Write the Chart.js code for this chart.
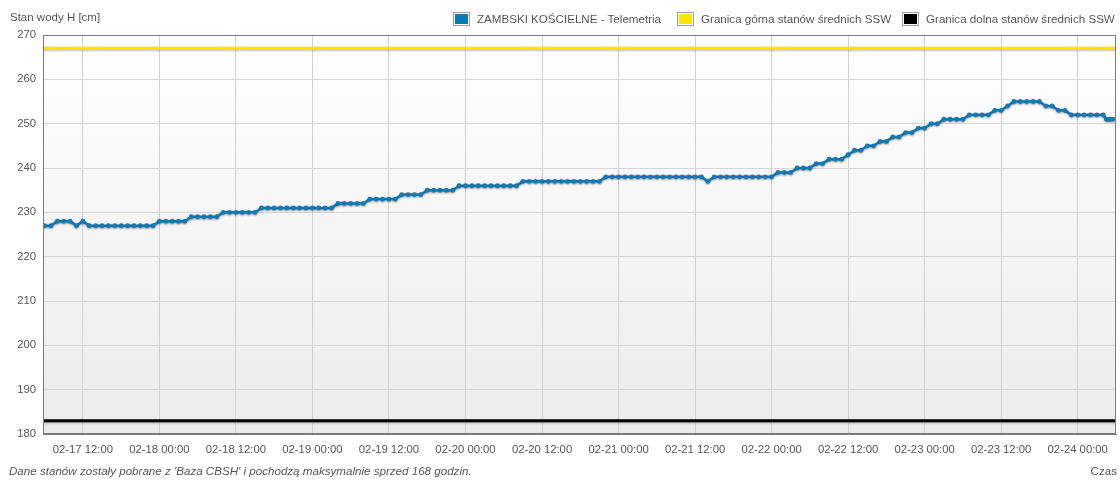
<!DOCTYPE html>
<html>
<head>
<meta charset="utf-8">
<script src="https://cdn.jsdelivr.net/npm/chart.js@4/dist/chart.umd.min.js"></script>
<style>
  body { margin: 0; background: #fff; }
  #wrap { position: relative; width: 1120px; height: 480px; font-family: "Liberation Sans", Arial, sans-serif; font-size: 11.6px; color: #555; }
  #graphic { position: absolute; left: 0; top: 0; }
  .txt { position: absolute; white-space: nowrap; line-height: 13px; }
  .box { position: absolute; width: 15px; height: 12px; border: 1px solid #a0a0a0; box-sizing: content-box; }
  .box i { position: absolute; left: 1px; top: 1px; right: 1px; bottom: 1px; }
</style>
</head>
<body>
<div id="wrap">
  <canvas id="graphic" width="1120" height="480"></canvas>
  <div class="txt" style="left:10px;top:11px;font-size:11.5px;">Stan wody H [cm]</div>

  <div class="box" style="left:453px;top:12px;"><i style="background:#0a78b6"></i></div>
  <div class="txt" style="left:477px;top:12px;">ZAMBSKI KOŚCIELNE - Telemetria</div>
  <div class="box" style="left:677px;top:12px;"><i style="background:#ffe600"></i></div>
  <div class="txt" style="left:701px;top:12px;">Granica górna stanów średnich SSW</div>
  <div class="box" style="left:902px;top:12px;"><i style="background:#000"></i></div>
  <div class="txt" style="left:926px;top:12px;">Granica dolna stanów średnich SSW</div>

  <div class="txt" style="left:9px;top:464px;font-style:italic;">Dane stanów zostały pobrane z 'Baza CBSH' i pochodzą maksymalnie sprzed 168 godzin.</div>
  <div class="txt" style="right:3px;top:464px;">Czas</div>
</div>
<script>
(()=> {
    // hours counted from 02-17 00:00
    const hours = [
        6,7,8,9,10,11,12,13,14,15,16,17,
        18,19,20,21,22,23,24,25,26,27,28,29,
        30,31,32,33,34,35,36,37,38,39,40,41,
        42,43,44,45,46,47,48,49,50,51,52,53,
        54,55,56,57,58,59,60,61,62,63,64,65,
        66,67,68,69,70,71,72,73,74,75,76,77,
        78,79,80,81,82,83,84,85,86,87,88,89,
        90,91,92,93,94,95,96,97,98,99,100,101,
        102,103,104,105,106,107,108,109,110,111,112,113,
        114,115,116,117,118,119,120,121,122,123,124,125,
        126,127,128,129,130,131,132,133,134,135,136,137,
        138,139,140,141,142,143,144,145,146,147,148,149,
        150,151,152,153,154,155,156,157,158,159,160,161,
        162,163,164,165,166,167,168,169,170,171,172,172.5,173,173.5
    ];
    const levels = [
        227,227,228,228,228,227,228,227,227,227,227,227,
        227,227,227,227,227,227,228,228,228,228,228,229,
        229,229,229,229,230,230,230,230,230,230,231,231,
        231,231,231,231,231,231,231,231,231,231,232,232,
        232,232,232,233,233,233,233,233,234,234,234,234,
        235,235,235,235,235,236,236,236,236,236,236,236,
        236,236,236,237,237,237,237,237,237,237,237,237,
        237,237,237,237,238,238,238,238,238,238,238,238,
        238,238,238,238,238,238,238,238,237,238,238,238,
        238,238,238,238,238,238,238,239,239,239,240,240,
        240,241,241,242,242,242,243,244,244,245,245,246,
        246,247,247,248,248,249,249,250,250,251,251,251,
        251,252,252,252,252,253,253,254,255,255,255,255,
        255,254,254,253,253,252,252,252,252,252,252,251,251,251
    ];
    const upperSSW = 267;
    const lowerSSW = 183;
    const xRange = [5.75, 174];
    const tickHours = [12,24,36,48,60,72,84,96,108,120,132,144,156,168];

    const pad = n => (n < 10 ? "0" : "") + n;
    const fmtHour = h => "02-" + pad(17 + Math.floor(h / 24)) + " " + pad(h % 24) + ":00";

    const bgPlugin = {
        id: "plotBg",
        beforeDraw(chart) {
            const a = chart.chartArea, ctx = chart.ctx;
            const g = ctx.createLinearGradient(0, a.top, 0, a.bottom);
            g.addColorStop(0, "#ffffff");
            g.addColorStop(1, "#ebebeb");
            ctx.save();
            ctx.fillStyle = g;
            ctx.fillRect(a.left, a.top, a.right - a.left, a.bottom - a.top);
            ctx.restore();
        },
        beforeDatasetDraw(chart) {
            const ctx = chart.ctx;
            ctx.save();
            ctx.shadowColor = "rgba(0,0,0,0.3)";
            ctx.shadowBlur = 2;
            ctx.shadowOffsetY = 1;
        },
        afterDatasetDraw(chart) {
            chart.ctx.restore();
        },
        afterDraw(chart) {
            const a = chart.chartArea, ctx = chart.ctx;
            ctx.save();
            ctx.strokeStyle = "#7a7a7a";
            ctx.lineWidth = 1;
            ctx.strokeRect(a.left + 0.5, a.top + 0.5, a.right - a.left - 1, a.bottom - a.top - 1);
            ctx.restore();
        }
    };

    const tickFont = { family: "'Liberation Sans', Arial, sans-serif", size: 11.3 };

    const data = {
        datasets: [
            {
                label: "ZAMBSKI KOŚCIELNE - Telemetria",
                data: hours.map((h, i) => ({ x: h, y: levels[i] })),
                borderColor: "#137ab6",
                backgroundColor: "#137ab6",
                borderWidth: 2.5,
                pointRadius: 2.4,
                pointBorderWidth: 0,
                tension: 0,
                order: 0
            },
            {
                label: "Granica górna stanów średnich SSW",
                data: [{ x: xRange[0], y: upperSSW }, { x: xRange[1], y: upperSSW }],
                borderColor: "#ffe600",
                borderWidth: 3,
                pointRadius: 0,
                order: 1
            },
            {
                label: "Granica dolna stanów średnich SSW",
                data: [{ x: xRange[0], y: lowerSSW }, { x: xRange[1], y: lowerSSW }],
                borderColor: "#000000",
                borderWidth: 3,
                pointRadius: 0,
                order: 2
            }
        ]
    };

    const options = {
        responsive: false,
        animation: false,
        layout: { padding: { top: 35, right: 3, left: 0, bottom: 0 } },
        plugins: { legend: { display: false }, tooltip: { enabled: false } },
        scales: {
            x: {
                type: "linear",
                min: xRange[0],
                max: xRange[1],
                afterBuildTicks: s => { s.ticks = tickHours.map(v => ({ value: v })); },
                afterFit: s => { s.height = 46; },
                ticks: {
                    callback: v => fmtHour(v),
                    color: "#555",
                    font: tickFont,
                    padding: 9,
                    maxRotation: 0,
                    autoSkip: false
                },
                grid: { color: "#d0d0d0", drawTicks: false },
                border: { color: "#7a7a7a" }
            },
            y: {
                min: 180,
                max: 270,
                afterFit: s => { s.width = 43; },
                ticks: { stepSize: 10, color: "#555", font: tickFont, padding: 7 },
                grid: { color: "#d6d6d6", drawTicks: false },
                border: { color: "#7a7a7a" }
            }
        }
    };

    const ctx = document.getElementById("graphic").getContext("2d");
    new Chart(ctx, { type: "line", data: data, options: options, plugins: [bgPlugin] });
})();
</script>
</body>
</html>
